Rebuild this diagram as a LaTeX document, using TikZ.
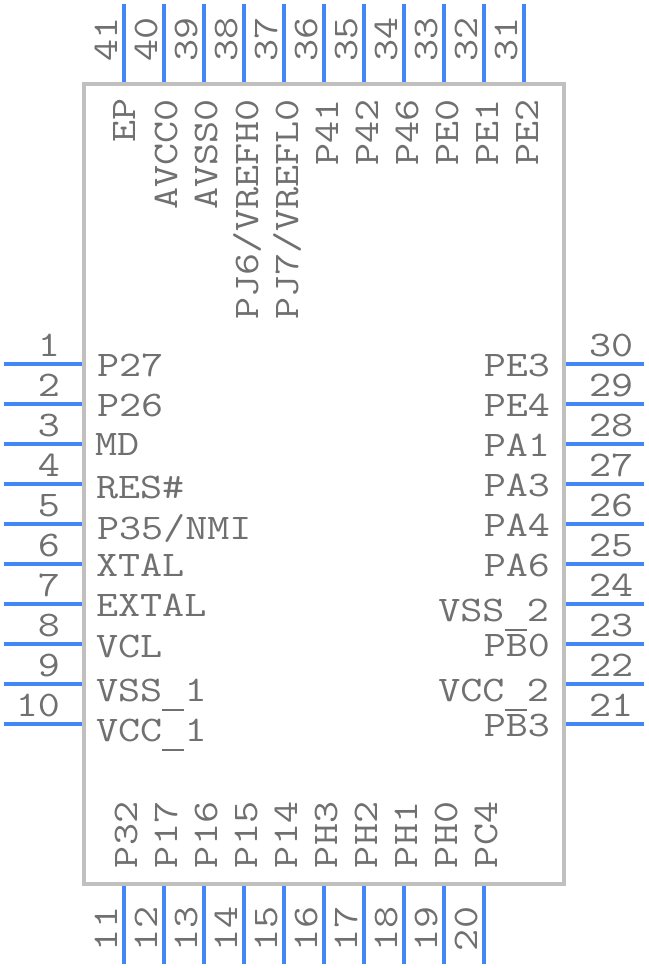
\documentclass[tikz,border=0pt]{standalone}
\usepackage{fontspec}
\setmonofont{Latin Modern Mono}[FakeStretch=1.19]
\definecolor{pinblue}{HTML}{4287F5}
\definecolor{bodygray}{HTML}{C0C0C0}
\definecolor{txtgray}{HTML}{707070}
\newcommand{\usc}{\makebox[22.5pt]{\rule[-10pt]{22pt}{1.8pt}}}
\tikzset{
  pinline/.style={draw=pinblue,line width=4.4pt},
  bodybox/.style={draw=bodygray,line width=4pt},
  lbl/.style={inner sep=0pt,outer sep=0pt,text=txtgray,font=\fontsize{36}{36}\selectfont\ttfamily},
  lw/.style={lbl,anchor=base west},
  le/.style={lbl,anchor=base east},
  vw/.style={lbl,anchor=base west,rotate=90},
  ve/.style={lbl,anchor=base east,rotate=90}
}
\begin{document}
\begin{tikzpicture}[x=1pt,y=-1pt]
\useasboundingbox[fill=white] (0,0) rectangle (648,968);
\draw[bodybox] (84,84) rectangle (564,884);
% left and right pins
\foreach \n/\y in {1/364,2/404,3/444,4/484,5/524,6/564,7/604,8/644,9/684,10/724}{
  \draw[pinline] (4,\y) -- (82,\y);
  \node[le] (pn\n) at (60,\y-8) {\n};
}
\foreach \n/\y in {30/364,29/404,28/444,27/484,26/524,25/564,24/604,23/644,22/684,21/724}{
  \draw[pinline] (566,\y) -- (644,\y);
  \node[lw] (pn\n) at (589,\y-8) {\n};
}
% top and bottom pins
\foreach \n/\x in {41/124,40/164,39/204,38/244,37/284,36/324,35/364,34/404,33/444,32/484,31/524}{
  \draw[pinline] (\x,4) -- (\x,82);
  \node[ve] (pn\n) at (\x-7,17) {\n};
}
\foreach \n/\x in {11/124,12/164,13/204,14/244,15/284,16/324,17/364,18/404,19/444,20/484}{
  \draw[pinline] (\x,886) -- (\x,964);
  \node[vw] (pn\n) at (\x-7,951) {\n};
}
% left labels
\node[lw] (a1) at (97,376) {P27};
\node[lw] (a2) at (97,416) {P26};
\node[lw] (a3) at (95,455) {MD};
\node[lw] (a4) at (96,498) {RES\#};
\node[lw] (a5) at (97,539) {P35/NMI};
\node[lw] (a6) at (96,576) {XTAL};
\node[lw] (a7) at (96,616) {EXTAL};
\node[lw] (a8) at (96,657) {VCL};
\node[lw] (a9) at (96,701) {VSS\usc1};
\node[lw] (a10) at (96,741) {VCC\usc1};
% right labels
\node[le] (b30) at (550,376) {PE3};
\node[le] (b29) at (550,416) {PE4};
\node[le] (b28) at (550,456) {PA1};
\node[le] (b27) at (550,496) {PA3};
\node[le] (b26) at (550,536) {PA4};
\node[le] (b25) at (550,576) {PA6};
\node[le] (b24) at (549,621) {VSS\usc2};
\node[le] (b23) at (550,656) {PB0};
\node[le] (b22) at (549,701) {VCC\usc2};
\node[le] (b21) at (550,736) {PB3};
% top labels
\node[ve] (c41) at (135,98) {EP};
\node[ve] (c40) at (177,99) {AVCC0};
\node[ve] (c39) at (217,99) {AVSS0};
\node[ve] (c38) at (258,99) {PJ6/VREFH0};
\node[ve] (c37) at (298,99) {PJ7/VREFL0};
\node[ve] (c36) at (338,99) {P41};
\node[ve] (c35) at (378,99) {P42};
\node[ve] (c34) at (418,99) {P46};
\node[ve] (c33) at (458,99) {PE0};
\node[ve] (c32) at (498,99) {PE1};
\node[ve] (c31) at (538,99) {PE2};
% bottom labels
\node[vw] (d11) at (137,868) {P32};
\node[vw] (d12) at (177,868) {P17};
\node[vw] (d13) at (217,868) {P16};
\node[vw] (d14) at (257,868) {P15};
\node[vw] (d15) at (297,868) {P14};
\node[vw] (d16) at (337,868) {PH3};
\node[vw] (d17) at (377,868) {PH2};
\node[vw] (d18) at (417,868) {PH1};
\node[vw] (d19) at (457,868) {PH0};
\node[vw] (d20) at (497,868) {PC4};
\end{tikzpicture}
\end{document}
